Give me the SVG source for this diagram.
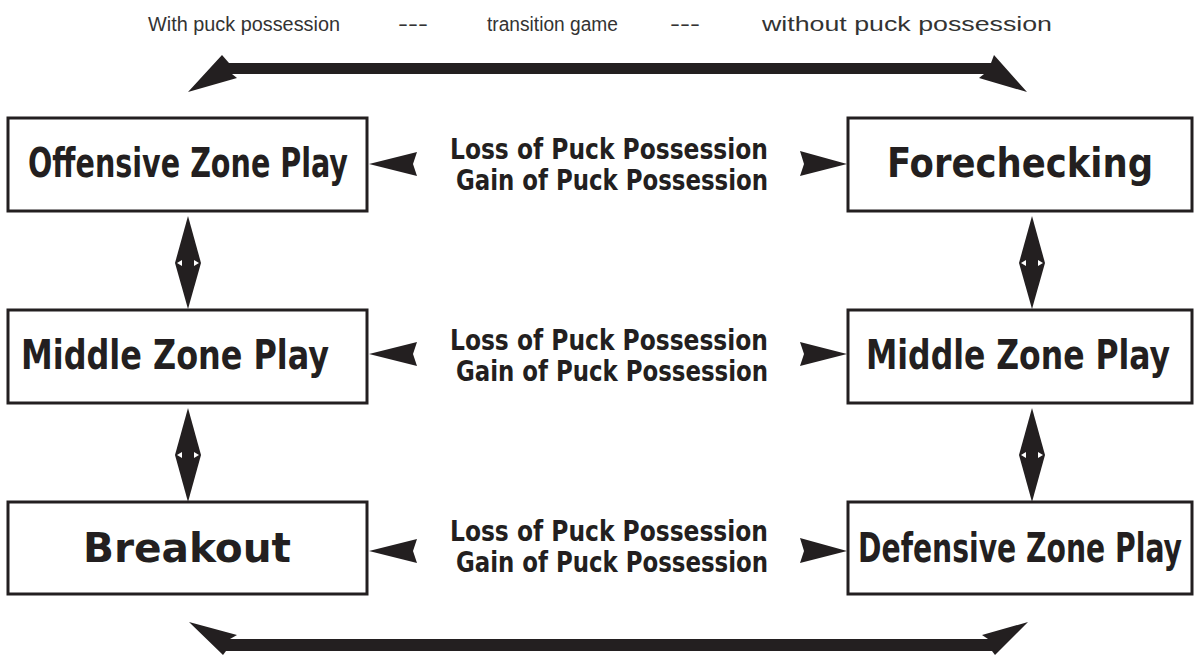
<svg xmlns="http://www.w3.org/2000/svg" width="1202" height="656" viewBox="0 0 1202 656">
<style>
.box{fill:#fff;stroke:#231f20;stroke-width:3}
.lbl{font-family:"Liberation Sans Narrow","DejaVu Sans Condensed","Liberation Sans",sans-serif;font-weight:bold;fill:#231f20}
.big{font-size:41px}
.mid{font-size:28px}
.title{font-family:"Liberation Sans","Arial",sans-serif;font-size:20px;fill:#333}
.ink{fill:#231f20}
.hole{fill:#fff}
</style>
<rect width="1202" height="656" fill="#fff"/>
<g id="title">
<text class="title" x="148" y="31" textLength="192" lengthAdjust="spacingAndGlyphs">With puck possession</text>
<text class="title" x="398" y="31" textLength="30" lengthAdjust="spacingAndGlyphs">---</text>
<text class="title" x="487" y="31" textLength="131" lengthAdjust="spacingAndGlyphs">transition game</text>
<text class="title" x="670" y="31" textLength="30" lengthAdjust="spacingAndGlyphs">---</text>
<text class="title" x="762" y="31" textLength="290" lengthAdjust="spacingAndGlyphs">without puck possession</text>
</g>
<g id="node-offensive"><rect class="box" x="8" y="118" width="359" height="93"/><text class="lbl big" x="28" y="177" textLength="320" lengthAdjust="spacingAndGlyphs">Offensive Zone Play</text></g>
<g id="node-middle-left"><rect class="box" x="8" y="310" width="359" height="93"/><text class="lbl big" x="21" y="369" textLength="308" lengthAdjust="spacingAndGlyphs">Middle Zone Play</text></g>
<g id="node-breakout"><rect class="box" x="8" y="502" width="359" height="92"/><text class="lbl big" x="83" y="562" textLength="208" lengthAdjust="spacingAndGlyphs">Breakout</text></g>
<g id="node-forechecking"><rect class="box" x="848" y="118" width="344" height="93"/><text class="lbl big" x="887" y="177" textLength="266" lengthAdjust="spacingAndGlyphs">Forechecking</text></g>
<g id="node-middle-right"><rect class="box" x="848" y="310" width="344" height="93"/><text class="lbl big" x="866" y="369" textLength="304" lengthAdjust="spacingAndGlyphs">Middle Zone Play</text></g>
<g id="node-defensive"><rect class="box" x="848" y="502" width="344" height="92"/><text class="lbl big" x="858" y="562" textLength="324" lengthAdjust="spacingAndGlyphs">Defensive Zone Play</text></g>
<g id="labels">
<text class="lbl mid" x="450" y="159" textLength="318" lengthAdjust="spacingAndGlyphs">Loss of Puck Possession</text>
<text class="lbl mid" x="456" y="190" textLength="312" lengthAdjust="spacingAndGlyphs">Gain of Puck Possession</text>
<text class="lbl mid" x="450" y="350" textLength="318" lengthAdjust="spacingAndGlyphs">Loss of Puck Possession</text>
<text class="lbl mid" x="456" y="381" textLength="312" lengthAdjust="spacingAndGlyphs">Gain of Puck Possession</text>
<text class="lbl mid" x="450" y="541" textLength="318" lengthAdjust="spacingAndGlyphs">Loss of Puck Possession</text>
<text class="lbl mid" x="456" y="572" textLength="312" lengthAdjust="spacingAndGlyphs">Gain of Puck Possession</text>
</g>
<g id="connectors">
<polygon class="ink" points="188,92 222,55 229,63 991,63 994,55 1027,92 979,78 984,74 232,74 237,78"/>
<polygon class="ink" points="189,622 237,635 230,639 988,639 982,635 1028,622 995,655 992,651 226,651 223,655"/>
<polygon class="ink" points="369,164 417,152 413,164 417,176"/>
<polygon class="ink" points="847,164 800,151 804,164 800,176"/>
<polygon class="ink" points="369,354 417,342 413,354 417,366"/>
<polygon class="ink" points="847,354 800,342 804,354 800,366"/>
<polygon class="ink" points="369,551 417,539 413,551 417,563"/>
<polygon class="ink" points="847,551 800,538 804,551 800,563"/>
<polygon class="ink" points="188,216 201,263 188,309 175,263"/>
<polygon class="hole" points="177,263 182,260 182,266"/><polygon class="hole" points="199,263 194,260 194,266"/>
<polygon class="ink" points="188,408 201,455 188,502 175,455"/>
<polygon class="hole" points="177,455 182,452 182,458"/><polygon class="hole" points="199,455 194,452 194,458"/>
<polygon class="ink" points="1032,216 1045,263 1032,309 1019,263"/>
<polygon class="hole" points="1021,263 1026,260 1026,266"/><polygon class="hole" points="1043,263 1038,260 1038,266"/>
<polygon class="ink" points="1032,408 1045,455 1032,502 1019,455"/>
<polygon class="hole" points="1021,455 1026,452 1026,458"/><polygon class="hole" points="1043,455 1038,452 1038,458"/>
</g>
</svg>
